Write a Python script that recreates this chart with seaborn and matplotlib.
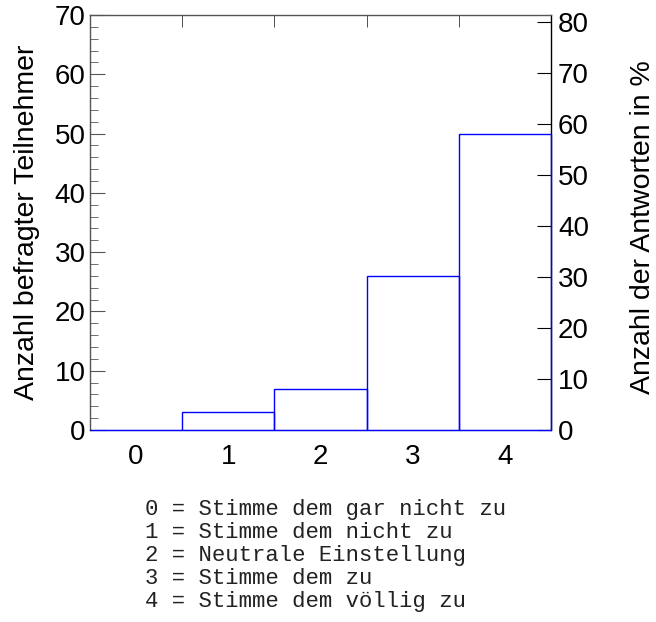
import numpy as np
import pandas as pd
import matplotlib
matplotlib.use("Agg")
import matplotlib.pyplot as plt
import seaborn as sns
from matplotlib.ticker import MultipleLocator, FixedLocator

# ================= DATEN =================
antworten = [0, 1, 2, 3, 4]
anzahl = [0, 3, 7, 26, 50]
prozent_ticks = [0, 10, 20, 30, 40, 50, 60, 70, 80]
legende = [
    "0 = Stimme dem gar nicht zu",
    "1 = Stimme dem nicht zu",
    "2 = Neutrale Einstellung",
    "3 = Stimme dem zu",
    "4 = Stimme dem völlig zu",
]

gesamt = sum(anzahl)
y_max = 70

sns.set_style("white")
plt.rcParams['font.family'] = ['Liberation Sans', 'DejaVu Sans']
plt.rcParams['text.color'] = 'black'
plt.rcParams['axes.labelcolor'] = 'black'
plt.rcParams['xtick.labelcolor'] = 'black'
plt.rcParams['ytick.labelcolor'] = 'black'

fig = plt.figure(figsize=(6.56, 6.22), dpi=100)
ax = fig.add_axes([90 / 656, 1 - 430 / 622, 461 / 656, 415 / 622])

df = pd.DataFrame({"antwort": antworten, "anzahl": anzahl})
sns.histplot(data=df, x="antwort", weights="anzahl", discrete=True,
             fill=False, color="blue", linewidth=1, ax=ax, clip_on=False,
             zorder=3)

ax.set_xlim(-0.5, 4.5)
ax.set_ylim(0, y_max)
ax.set_xlabel("")
ax.set_xticks(antworten)
ax.xaxis.set_minor_locator(FixedLocator([0.5, 1.5, 2.5, 3.5]))
ax.tick_params(axis="x", which="major", bottom=False, top=False, length=0,
               pad=10, labelsize=20, labelcolor="black")
ax.tick_params(axis="x", which="minor", bottom=False, top=True,
               direction="in", length=8.6, color="#333333")

ax.yaxis.set_major_locator(MultipleLocator(10))
ax.yaxis.set_minor_locator(MultipleLocator(2))
ax.tick_params(axis="y", which="both", left=True, right=False,
               direction="in", color="#555555", labelsize=20, pad=3,
               labelcolor="black")
ax.tick_params(axis="y", which="major", length=10.8)
ax.tick_params(axis="y", which="minor", length=5.8)
ax.set_ylabel("Anzahl befragter Teilnehmer", fontsize=20.5, color="black")
ax.yaxis.set_label_coords(-0.108, 0.5)

for s in ["left", "top"]:
    ax.spines[s].set_color("#555555")
    ax.spines[s].set_linewidth(1)
ax.spines["bottom"].set_color("black")
ax.spines["right"].set_visible(False)

# rechte Achse in Prozent
ax2 = ax.twinx()
ax2.set_ylim(0, y_max / gesamt * 100)
ax2.set_yticks(prozent_ticks)
ax2.tick_params(axis="y", direction="in", length=10, color="black",
                labelsize=20, pad=5, labelcolor="black")
ax2.set_ylabel("Anzahl der Antworten in %", fontsize=20.5, color="black")
ax2.yaxis.set_label_coords(1.172, 0.49)
for s in ["left", "top", "bottom"]:
    ax2.spines[s].set_visible(False)
ax2.spines["right"].set_color("black")
ax2.spines["right"].set_linewidth(1)

# Balken über der rechten Achse zeichnen
ax.set_zorder(ax2.get_zorder() + 1)
ax.patch.set_visible(False)

# Legende unten
for i, txt in enumerate(legende):
    fig.text(145 / 656, 1 - (510 + i * 23) / 622, txt,
             family=["Liberation Mono", "DejaVu Sans Mono"], fontsize=16,
             va="center", ha="left", color="#222222")

fig.savefig("out.png", dpi=100)
